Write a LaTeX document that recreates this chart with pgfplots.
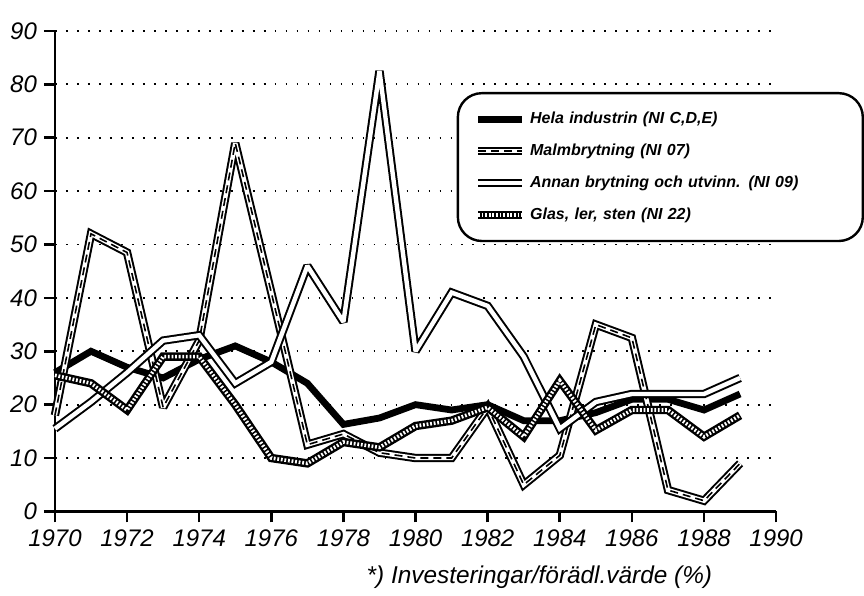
\documentclass[border=0pt]{standalone}
\usepackage{fontspec}
\setmainfont{Liberation Sans}
\usepackage{pgfplots}
\pgfplotsset{compat=1.18}
\usepackage{pgfplotstable}

\pgfplotstableread{
year hela malm annan glas
1970 26   18   15.5 25.5
1971 30   52   20.5 24
1972 27   48.5 26   19
1973 25   19.5 32   29
1974 28.5 32   33   29
1975 31   69   24   20
1976 28   41   28   10
1977 24   12.5 46   9
1978 16.3 14.5 35.5 13
1979 17.5 11   82.5 12
1980 20   10   30   16
1981 19   10   41   17
1982 20   19.5 38.5 19.5
1983 17   5    29   14
1984 17   10.5 15.5 24.5
1985 18.5 35   20.5 15.2
1986 21   32.5 22   19
1987 21   4    22   19
1988 19   2    22   14
1989 22   9    25   18
}\data

\tikzset{
  hela/.style={draw=black, line width=3.4pt, miter limit=2},
  malm/.style={draw=black, line width=4.2pt, miter limit=2,
    postaction={draw=white, line width=2.2pt, miter limit=2},
    postaction={draw=black, line width=0.8pt, dash pattern=on 4pt off 2.5pt}},
  annan/.style={draw=black, line width=4.2pt, miter limit=2,
    postaction={draw=white, line width=2.2pt, miter limit=2}},
  glas/.style={draw=black, line width=4.2pt, miter limit=2,
    postaction={draw=white, line width=1.8pt, dash pattern=on 0.9pt off 0.9pt}},
}

\begin{document}
\begin{tikzpicture}
\begin{axis}[
  scale only axis, width=361pt, height=240.5pt,
  xmin=1970, xmax=1990, ymin=0, ymax=90,
  axis x line*=bottom, axis y line*=left,
  axis line style={line width=1.3pt, -},
  xtick={1970,1972,...,1990}, ytick={0,10,...,90},
  tick align=outside, major tick length=5.5pt,
  tick style={line width=1.3pt, black},
  /pgf/number format/1000 sep={},
  /pgf/number format/assume math mode=true,
  ticklabel style={font=\itshape\fontsize{12}{14}\selectfont},
  ymajorgrids,
  major grid style={line width=0.9pt, dash pattern=on 0.9pt off 4.6pt, black},
  clip=false,
  legend image code/.code={\draw[#1] (0pt,0pt) -- (22pt,0pt);},
  legend style={at={(rel axis cs:0.557,0.873)}, anchor=north west,
    draw=black, line width=1.2pt, rounded corners=12pt,
    font=\bfseries\itshape\fontsize{8}{9.5}\selectfont,
    inner xsep=8pt, inner ysep=7.5pt, row sep=4.6pt,
    nodes={text width=156.5pt}},
  legend cell align=left,
]
\addplot[hela] table[x=year, y=hela] {\data};
\addlegendentry{Hela industrin (NI C,D,E)}
\addplot[malm] table[x=year, y=malm] {\data};
\addlegendentry{Malmbrytning (NI 07)}
\addplot[annan] table[x=year, y=annan] {\data};
\addlegendentry{Annan brytning och utvinn. (NI 09)}
\addplot[glas] table[x=year, y=glas] {\data};
\addlegendentry{Glas, ler, sten (NI 22)}
\node[anchor=east, yshift=-33pt, font=\itshape\fontsize{12.2}{14}\selectfont]
  at (rel axis cs:0.921,0) {*) Investeringar/förädl.värde (\%)};
\end{axis}
\path (current axis.south west) ++(-27.5pt,-41.5pt) rectangle ([shift={(43.5pt,15.5pt)}]current axis.north east);
\end{tikzpicture}
\end{document}
